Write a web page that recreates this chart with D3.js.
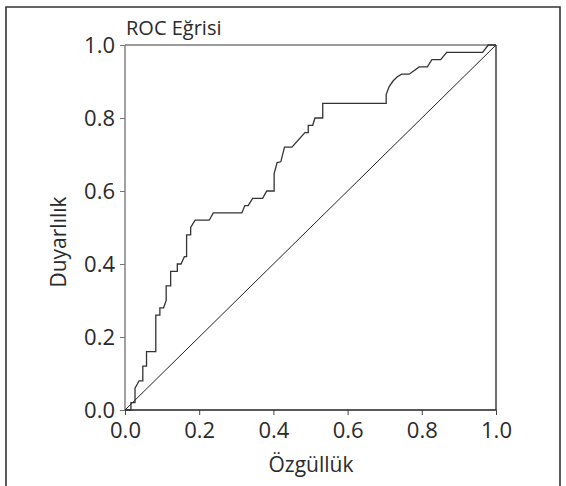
<!DOCTYPE html>
<html>
<head>
<meta charset="utf-8">
<script src="https://cdn.jsdelivr.net/npm/d3@7"></script>
<style>
  body { margin: 0; background: #fff; }
  svg text { font-family: "Open Sans", "Noto Sans", sans-serif; fill: #2a2a2a; }
</style>
</head>
<body>
<svg id="roc" width="566" height="486"></svg>
<script>
// ROC curve vertices
var fpr = [0, 0.016, 0.016, 0.027, 0.027, 0.038, 0.048, 0.048, 0.058, 0.058, 0.083, 0.083,
  0.094, 0.094, 0.104, 0.111, 0.111, 0.123, 0.123, 0.141, 0.141, 0.151, 0.160, 0.166,
  0.166, 0.177, 0.177, 0.189, 0.227, 0.238, 0.315, 0.323, 0.332, 0.344, 0.371, 0.382,
  0.402, 0.402, 0.410, 0.420, 0.430, 0.450, 0.485, 0.494, 0.494, 0.506, 0.512, 0.533,
  0.533, 0.704, 0.704, 0.712, 0.723, 0.734, 0.746, 0.766, 0.793, 0.815, 0.827, 0.851,
  0.867, 0.964, 0.979, 1];
var tpr = [0, 0, 0.02, 0.02, 0.06, 0.08, 0.08, 0.12, 0.12, 0.16, 0.16, 0.26,
  0.26, 0.28, 0.28, 0.30, 0.34, 0.34, 0.38, 0.38, 0.40, 0.40, 0.42, 0.42,
  0.48, 0.48, 0.50, 0.52, 0.52, 0.54, 0.54, 0.56, 0.56, 0.58, 0.58, 0.60,
  0.60, 0.648, 0.678, 0.68, 0.72, 0.72, 0.76, 0.76, 0.78, 0.78, 0.80, 0.80,
  0.84, 0.84, 0.864, 0.886, 0.902, 0.913, 0.92, 0.92, 0.94, 0.94, 0.96, 0.96,
  0.98, 0.98, 1, 1];
var xTicks = [0, 0.2, 0.4, 0.6, 0.8, 1.0];
var yTicks = [0, 0.2, 0.4, 0.6, 0.8, 1.0];
var refLine = [0, 1];

var svg = d3.select("svg#roc");

var plotLeft = 125, plotRight = 496, plotTop = 45, plotBottom = 410;

var x = d3.scaleLinear().domain([0, 1]).range([plotLeft, plotRight]);
var y = d3.scaleLinear().domain([0, 1]).range([plotBottom, plotTop]);

// outer frame (open at the bottom)
svg.append("path")
  .attr("d", "M6,486V7H560V486")
  .attr("fill", "none")
  .attr("stroke", "#333")
  .attr("stroke-width", 1.6);

// axes
var xAxis = svg.append("g")
  .attr("transform", "translate(0," + plotBottom + ")")
  .call(d3.axisBottom(x).tickValues(xTicks).tickFormat(d3.format(".1f")).tickSize(5).tickSizeOuter(0).tickPadding(7));
xAxis.select(".domain").remove();
xAxis.selectAll("line").attr("stroke", "#444");
xAxis.selectAll("text").style("font-size", "22px").attr("fill", "#2a2a2a");

var yAxis = svg.append("g")
  .attr("transform", "translate(" + plotLeft + ",0)")
  .call(d3.axisLeft(y).tickValues(yTicks).tickFormat(d3.format(".1f")).tickSize(5).tickSizeOuter(0).tickPadding(5));
yAxis.select(".domain").remove();
yAxis.selectAll("line").attr("stroke", "#777");
yAxis.selectAll("text").style("font-size", "22px").attr("dy", "0.36em").attr("fill", "#2a2a2a");

// plot box: left + top grey, right + bottom dark
svg.append("line")
  .attr("x1", x(0)).attr("y1", y(0)).attr("x2", x(0)).attr("y2", y(1))
  .attr("stroke", "#7a7a7a").attr("stroke-width", 1.4);
svg.append("line")
  .attr("x1", x(0)).attr("y1", y(1)).attr("x2", x(1)).attr("y2", y(1))
  .attr("stroke", "#7a7a7a").attr("stroke-width", 1.4);
svg.append("line")
  .attr("x1", x(1)).attr("y1", y(1)).attr("x2", x(1)).attr("y2", y(0))
  .attr("stroke", "#222").attr("stroke-width", 1.3);
svg.append("line")
  .attr("x1", x(0)).attr("y1", y(0)).attr("x2", x(1)).attr("y2", y(0))
  .attr("stroke", "#222").attr("stroke-width", 1.3);

// chance line
svg.append("line")
  .attr("x1", x(refLine[0])).attr("y1", y(refLine[0]))
  .attr("x2", x(refLine[1])).attr("y2", y(refLine[1]))
  .attr("stroke", "#222")
  .attr("stroke-width", 1);

// ROC curve
var pts = fpr.map((d, i) => [d, tpr[i]]);
var line = d3.line()
  .x(d => x(d[0]))
  .y(d => y(d[1]));

svg.append("path")
  .datum(pts)
  .attr("d", line)
  .attr("fill", "none")
  .attr("stroke", "#333")
  .attr("stroke-width", 1.3);

// titles
svg.append("text")
  .attr("x", 126)
  .attr("y", 35)
  .style("font-size", "20px")
  .text("ROC Eğrisi");

svg.append("text")
  .attr("x", 311)
  .attr("y", 472)
  .attr("text-anchor", "middle")
  .style("font-size", "21px")
  .text("Özgüllük");

svg.append("text")
  .attr("transform", "translate(66,242) rotate(-90)")
  .attr("text-anchor", "middle")
  .style("font-size", "21px")
  .text("Duyarlılık");
</script>
</body>
</html>
